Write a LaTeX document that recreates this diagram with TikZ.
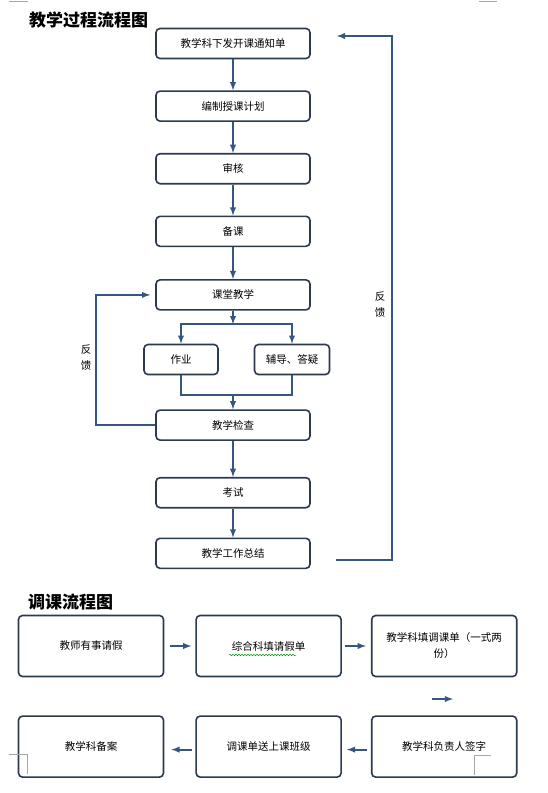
\documentclass[tikz,border=0pt]{standalone}
\usepackage{fontspec}
\usepackage{xcolor}
\usetikzlibrary{arrows,positioning,decorations.pathmorphing}
\newfontfamily\cjk{Noto Sans CJK SC}
\definecolor{boxline}{HTML}{2B3A4F}
\definecolor{flowblue}{HTML}{34567F}
\definecolor{markgray}{HTML}{A6A6A6}

\begin{document}
\begin{tikzpicture}[
    x=1pt, y=-1pt,
    >=latex,
    font=\cjk\fontsize{10.5}{16}\selectfont,
    flowbox/.style={
		rectangle,
		rounded corners=4pt,
		draw=boxline,
		line width=1.6pt,
		text centered,
		minimum width=154pt,
		minimum height=30pt,
		inner sep=2pt,
		fill=white
	},
	smallbox/.style={
		flowbox,
		minimum width=74pt
	},
	widebox/.style={
		flowbox,
		align=center,
		minimum width=145pt,
		minimum height=61pt
	},
	flow/.style={
		draw=flowblue,
		line width=1.8pt
	},
	title/.style={
		font=\cjk\bfseries\fontsize{17}{20}\selectfont,
		anchor=west,
		inner sep=0pt
	},
	label/.style={
		align=center,
		inner sep=0pt
	},
	cropmark/.style={
		draw=markgray,
		line width=0.8pt
	}
  ]
  \useasboundingbox (0,0) rectangle (547,793);

    % teaching process
  \node [title] (title1) at (29,19.5) {教学过程流程图};

  \node [flowbox] (notice) at (233,43.5) {教学科下发开课通知单};
  \node [flowbox, below=31pt of notice] (plan) {编制授课计划};
  \node [flowbox, below=31pt of plan] (review) {审核};
  \node [flowbox, below=31pt of review] (prepare) {备课};
  \node [flowbox, below=32pt of prepare] (lesson) {课堂教学};
  \node [smallbox, below=33pt of lesson, xshift=-52pt] (homework) {作业};
  \node [smallbox, below=33pt of lesson, xshift=59pt, minimum width=75pt] (tutor) {辅导、答疑};
  \node [flowbox, below=34pt of homework, xshift=52pt] (check) {教学检查};
  \node [flowbox, below=36pt of check] (exam) {考试};
  \node [flowbox, below=29pt of exam] (summary) {教学工作总结};

  \draw [flow,->] (notice) -- (plan);
  \draw [flow,->] (plan) -- (review);
  \draw [flow,->] (review) -- (prepare);
  \draw [flow,->] (prepare) -- (lesson);

  \coordinate (split) at ([yshift=-13.5pt]lesson.south);
  \coordinate (merge) at ([yshift=14pt]check.north);
  \draw [flow,->] (lesson) -- (split);
  \draw [flow,->] (split) -| (homework);
  \draw [flow,->] (split) -| (tutor);
  \draw [flow] (homework) |- (merge) -| (tutor);
  \draw [flow,->] (merge) -- (check);
  \draw [flow,->] (check) -- (exam);
  \draw [flow,->] (exam) -- (summary);

  % feedback loops
  \draw [flow,->] (check.west) -- ++(-59,0) |- ([xshift=-5pt]lesson.west);
  \node [label] (fbleft) at (86,357.5) {反\\馈};
  \draw [flow,->] ([xshift=25pt,yshift=-7pt]summary.east) -- ++(56,0) |- ([xshift=26pt,yshift=7.5pt]notice.east);
  \node [label] (fbright) at (380,305) {反\\馈};

    % course change
  \node [title] (title2) at (28,602) {调课流程图};

  \node [widebox] (leave) at (91,646) {教师有事请假};
  \node [widebox, right=31pt of leave] (form) {综合科填请假单};
  \node [widebox, right=29pt of form] (change) {教学科填调课单（一式两\\份）};
  \node [widebox, below=38pt of leave] (record) {教学科备案};
  \node [widebox, below=38pt of form] (send) {调课单送上课班级};
  \node [widebox, below=38pt of change] (sign) {教学科负责人签字};

  \draw [decorate, decoration={snake, amplitude=0.7pt, segment length=3pt}, draw=green!60!black, line width=0.5pt]
    ([xshift=-39.5pt,yshift=-9pt]form.center) -- ([xshift=27.5pt,yshift=-9pt]form.center);

  \draw [flow,->] ([xshift=6pt]leave.east) -- ([xshift=-4pt]form.west);
  \draw [flow,->] ([xshift=3pt]form.east) -- ([xshift=-5pt]change.west);
  \coordinate (gapL) at (432,699);
  \coordinate (gapR) at (453,699);
  \draw [flow,->] (gapL) -- (gapR);
  \draw [flow,->] ([xshift=-4pt,yshift=-3pt]sign.west) -- ([xshift=5pt,yshift=-3pt]send.east);
  \draw [flow,->] ([xshift=-3pt,yshift=-3pt]send.west) -- ([xshift=7pt,yshift=-3pt]record.east);

  % page corner marks
  \draw [cropmark] (9,1) -- (28,1);
  \draw [cropmark] (479,1) -- (497,1);
  \draw [cropmark] (9,754) -- (27,754) -- (27,774);
  \draw [cropmark] (491,755) -- (474,755) -- (474,775);

\end{tikzpicture}
\end{document}
